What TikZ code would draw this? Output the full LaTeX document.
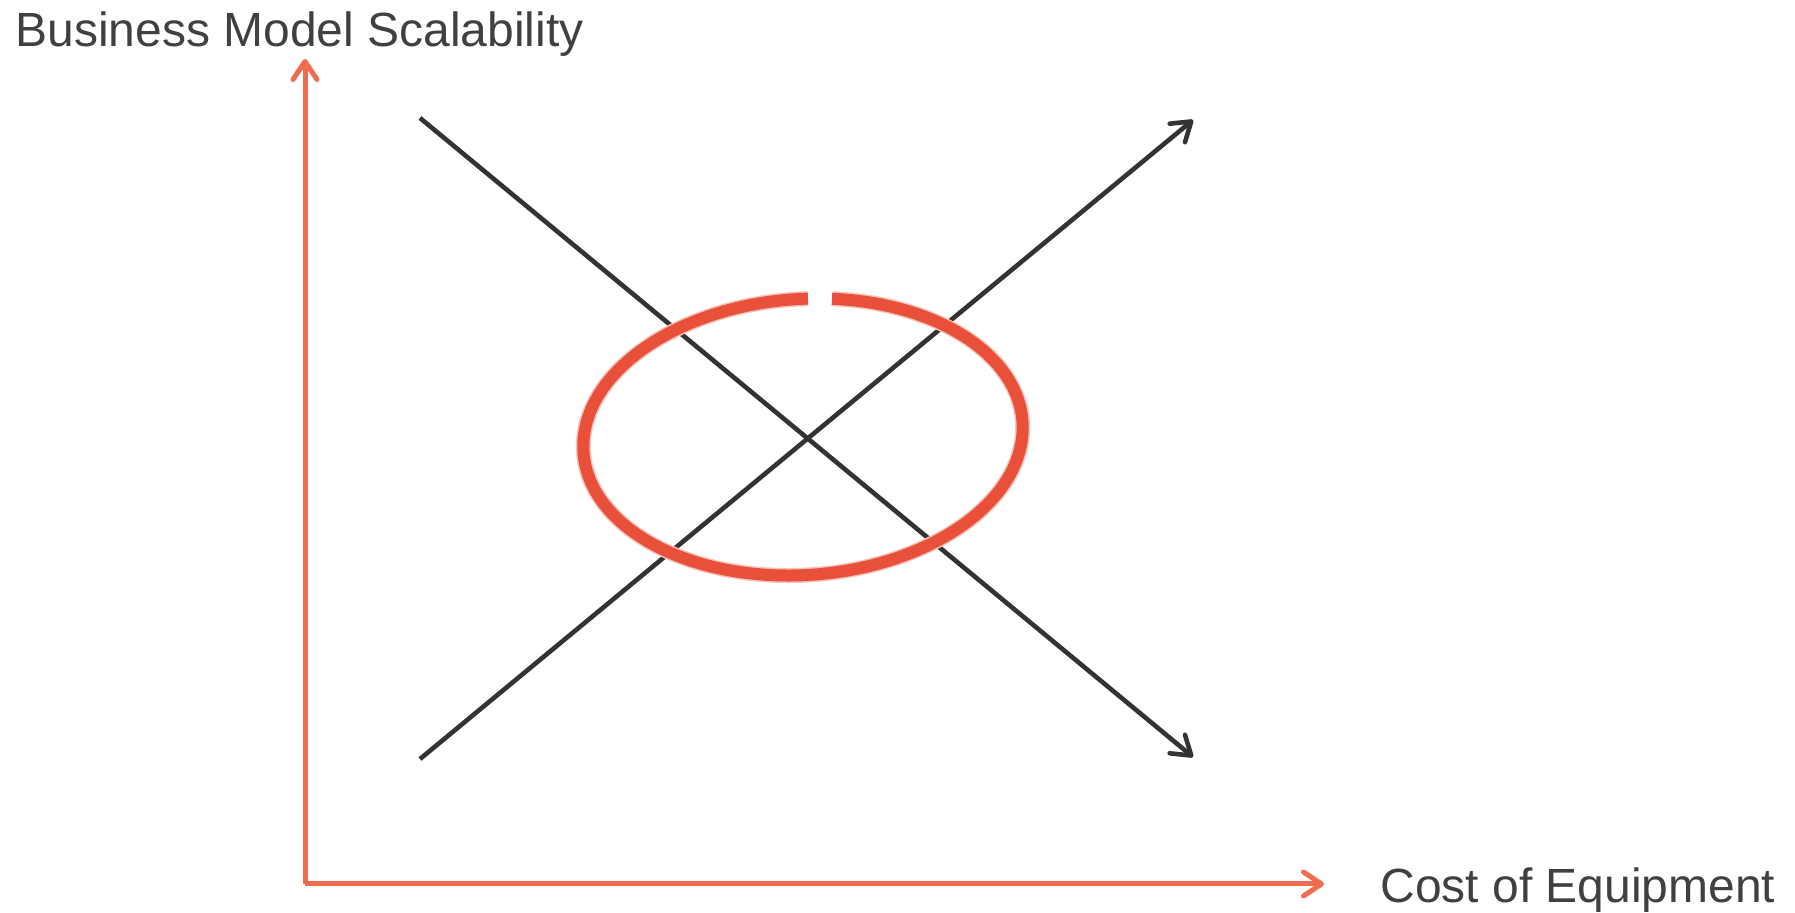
\documentclass[tikz,border=0pt]{standalone}
\usepackage{fontspec}
\setmainfont{Liberation Sans}
\usetikzlibrary{arrows.meta}
\definecolor{axisorange}{HTML}{F06C4E}
\definecolor{ringred}{HTML}{E8503A}
\definecolor{linegray}{HTML}{333333}
\definecolor{textgray}{HTML}{404040}

\begin{document}
\begin{tikzpicture}[x=0.5pt, y=-0.5pt,
    axis/.style={axisorange, line width=2.5pt, -{Straight Barb[round, length=9pt, width=12pt]}},
    trend/.style={linegray, line width=2.3pt, -{Straight Barb[round, length=9pt, width=12pt]}},
    ring/.style={ringred, line width=6pt},
    ringhalo/.style={ringred!35, line width=7.5pt},
    axislabel/.style={textgray, inner sep=0pt, font=\fontsize{24}{28}\selectfont}]
    \useasboundingbox (0,0) rectangle (1795,913);

    \coordinate (origin) at (305,884);
    \coordinate (ytop) at (305,59);
    \coordinate (xend) at (1324,884);
    \node (yname) [axislabel, anchor=base west] at (15,47) {Business Model Scalability};
    \node (xname) [axislabel, anchor=base west] at (1380,903) {Cost of Equipment};

    \coordinate (topleft) at (420,118);
    \coordinate (topright) at (1193,120);
    \coordinate (botleft) at (420,759);
    \coordinate (botright) at (1193,757);

    \draw [axis] (origin) -- (ytop);
    \draw [axis] (origin) -- (xend);
    \draw [trend] (topleft) -- (botright);
    \draw [trend] (botleft) -- (topright);

    % ring with a small gap at the top
    \begin{scope}[shift={(803,437)}, rotate=4]
      \draw [ringhalo] (280.1:220 and 138) arc [start angle=280.1, end angle=633.8, x radius=220, y radius=138];
      \draw [ring] (280.1:220 and 138) arc [start angle=280.1, end angle=633.8, x radius=220, y radius=138];
    \end{scope}
  \end{tikzpicture}
\end{document}
